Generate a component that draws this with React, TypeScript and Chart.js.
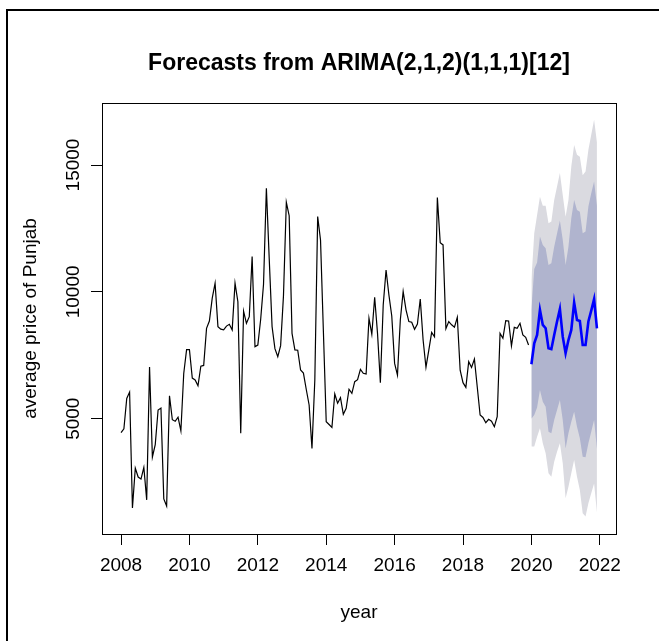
import React, { useEffect, useRef } from 'react';
import { Chart, registerables } from 'chart.js';

Chart.register(...registerables);

const HIST_START = 2008;
const FC_START = 2020;

const histValues = [
  4450, 4600, 5800, 6050, 1480, 3050, 2700, 2620, 3080, 1800, 7040, 3490,
  3980, 5340, 5420, 1840, 1560, 5900, 4960, 4900, 5060, 4520, 6780, 7720,
  7720, 6600, 6530, 6300, 7070, 7100, 8560, 8850, 9750, 10340, 8630, 8530,
  8500, 8650, 8720, 8500, 10340, 9610, 4425, 9240, 8760, 9020, 11390, 7840,
  7900, 8920, 10300, 14085, 11300, 8630, 7760, 7445, 7880, 9850, 13530, 13000,
  8365, 7710, 7700, 6920, 6800, 6150, 5540, 3830, 6525, 12965, 12045, 8460,
  4880, 4770, 4660, 5975, 5610, 5830, 5175, 5410, 6160, 6000, 6460, 6540,
  6945, 6790, 6760, 8960, 8330, 9790, 8365, 6420, 9480, 10860, 9875, 9050,
  7180, 6720, 8890, 10010, 9290, 8830, 8800, 8525, 8730, 9720, 8100, 7030,
  7700, 8400, 8230, 13720, 11940, 11850, 8550, 8830, 8700, 8610, 9000, 6910,
  6420, 6235, 7250, 7020, 7350, 6250, 5145, 5050, 4840, 4975, 4900, 4685,
  5080, 8365, 8170, 8865, 8850, 7870, 8600, 8560, 8760, 8300, 8210, 7905,
];

const fcMean = [
  7145, 7970, 8300, 9285, 8695, 8565, 7775, 7740, 8300, 8830, 9325, 8235,
  7580, 8100, 8500, 9575, 8890, 8850, 7905, 7905, 8830, 9260, 9710, 8565,
];
const fcUpper80 = [
  9300, 10900, 11160, 12180, 11850, 11720, 11060, 11130, 11780, 12300, 12810, 12050,
  11060, 11780, 12900, 13620, 13230, 13160, 12310, 12380, 13360, 13890, 14350, 13400,
];
const fcLower80 = [
  5000, 5150, 5440, 6130, 5670, 5470, 4490, 4425, 4950, 5340, 5740, 4950,
  3830, 4425, 4880, 5275, 4685, 4225, 3500, 3480, 4030, 4490, 4950, 3800,
];
const fcUpper95 = [
  10470, 12310, 13030, 13750, 13390, 13390, 12700, 12770, 13620, 14150, 14680, 13820,
  12960, 13620, 14940, 15790, 15400, 15330, 14600, 14740, 15600, 16190, 16780, 15900,
];
const fcLower95 = [
  3900, 3900, 4290, 4620, 4030, 3635, 2850, 2715, 3305, 3700, 4030, 3240,
  1860, 2320, 2850, 3370, 2715, 2190, 1270, 1140, 1665, 2060, 2450, 1300,
];

const xTicks = [2008, 2010, 2012, 2014, 2016, 2018, 2020, 2022];
const yTicks = [5000, 10000, 15000];

const TITLE = 'Forecasts from ARIMA(2,1,2)(1,1,1)[12]';
const X_TITLE = 'year';
const Y_TITLE = 'average price of Punjab';

const FONT = '"Liberation Sans", Arial, Helvetica, sans-serif';

const toPoints = (start: number, vals: number[]) =>
  vals.map((v, i) => ({ x: start + i / 12, y: v }));

const framePlugin = {
  id: 'framePlugin',
  afterDraw(chart: any) {
    const { ctx, chartArea: a, scales } = chart;
    ctx.save();
    ctx.strokeStyle = '#000';
    ctx.lineWidth = 1;
    ctx.strokeRect(Math.round(a.left) + 0.5, Math.round(a.top) + 0.5,
      Math.round(a.right - a.left), Math.round(a.bottom - a.top));
    ctx.fillStyle = '#000';
    ctx.font = `19px ${FONT}`;
    ctx.textAlign = 'center';
    ctx.textBaseline = 'alphabetic';
    const ys = scales.y;
    for (const v of yTicks) {
      const py = ys.getPixelForValue(v);
      ctx.save();
      ctx.translate(a.left - 23, py);
      ctx.rotate(-Math.PI / 2);
      ctx.fillText(String(v), 0, 0);
      ctx.restore();
    }
    ctx.lineWidth = 2;
    ctx.beginPath();
    ctx.moveTo(7, 641);
    ctx.lineTo(7, 10);
    ctx.lineTo(659, 10);
    ctx.stroke();
    ctx.restore();
  },
};

export default function App() {
  const ref = useRef<HTMLCanvasElement | null>(null);

  useEffect(() => {
    if (!ref.current) return;
    const chart = new Chart(ref.current, {
      type: 'line',
      data: {
        datasets: [
          { data: toPoints(FC_START, fcLower95), borderWidth: 0, pointRadius: 0, fill: false, order: 5 },
          { data: toPoints(FC_START, fcUpper95), borderWidth: 0, pointRadius: 0, fill: '-1', backgroundColor: '#DADAE0', order: 5 },
          { data: toPoints(FC_START, fcLower80), borderWidth: 0, pointRadius: 0, fill: false, order: 4 },
          { data: toPoints(FC_START, fcUpper80), borderWidth: 0, pointRadius: 0, fill: '-1', backgroundColor: '#B0B4CE', order: 4 },
          { data: toPoints(HIST_START, histValues), borderColor: '#000', borderWidth: 1.2, pointRadius: 0, fill: false, tension: 0, order: 2 },
          { data: toPoints(FC_START, fcMean), borderColor: '#0000FF', borderWidth: 2.6, pointRadius: 0, fill: false, tension: 0, order: 1 },
        ],
      },
      options: {
        animation: false,
        responsive: false,
        devicePixelRatio: 1,
        layout: { padding: { left: 0, right: 43, top: 0, bottom: 0 } },
        plugins: {
          legend: { display: false },
          tooltip: { enabled: false },
          title: {
            display: true,
            text: TITLE,
            fullSize: false,
            color: '#000',
            font: { family: FONT, size: 23, weight: 'bold', lineHeight: 1.2 },
            padding: { top: 50, bottom: 25.4 },
          },
        },
        scales: {
          x: {
            type: 'linear',
            min: 2007.443,
            max: 2022.474,
            afterBuildTicks: (s: any) => { s.ticks = xTicks.map((v) => ({ value: v })); },
            afterFit: (s: any) => { s.height = 107; },
            grid: { drawOnChartArea: false, drawTicks: true, tickLength: 11, color: '#000' },
            border: { display: true, color: '#000', width: 1 },
            ticks: {
              color: '#000',
              font: { family: FONT, size: 19 },
              padding: 9,
              maxRotation: 0,
              minRotation: 0,
              autoSkip: false,
              callback: (v: any) => String(v),
            },
            title: {
              display: true,
              text: X_TITLE,
              color: '#000',
              font: { family: FONT, size: 19 },
              padding: { top: 0, bottom: 17 },
            },
          },
          y: {
            type: 'linear',
            min: 455,
            max: 17444,
            afterBuildTicks: (s: any) => { s.ticks = yTicks.map((v) => ({ value: v })); },
            afterFit: (s: any) => { s.width = 102; },
            grid: { drawOnChartArea: false, drawTicks: true, tickLength: 11, color: '#000' },
            border: { display: true, color: '#000', width: 1 },
            ticks: { display: false },
            title: {
              display: true,
              text: Y_TITLE,
              color: '#000',
              font: { family: FONT, size: 19 },
              padding: { top: 19, bottom: 0 },
            },
          },
        },
      },
      plugins: [framePlugin],
    });
    return () => chart.destroy();
  }, []);

  return (
    <div style={{ position: 'absolute', left: 0, top: 0, width: 659, height: 641, background: '#fff' }}>
      <canvas ref={ref} width={659} height={641} style={{ display: 'block' }} />
    </div>
  );
}
